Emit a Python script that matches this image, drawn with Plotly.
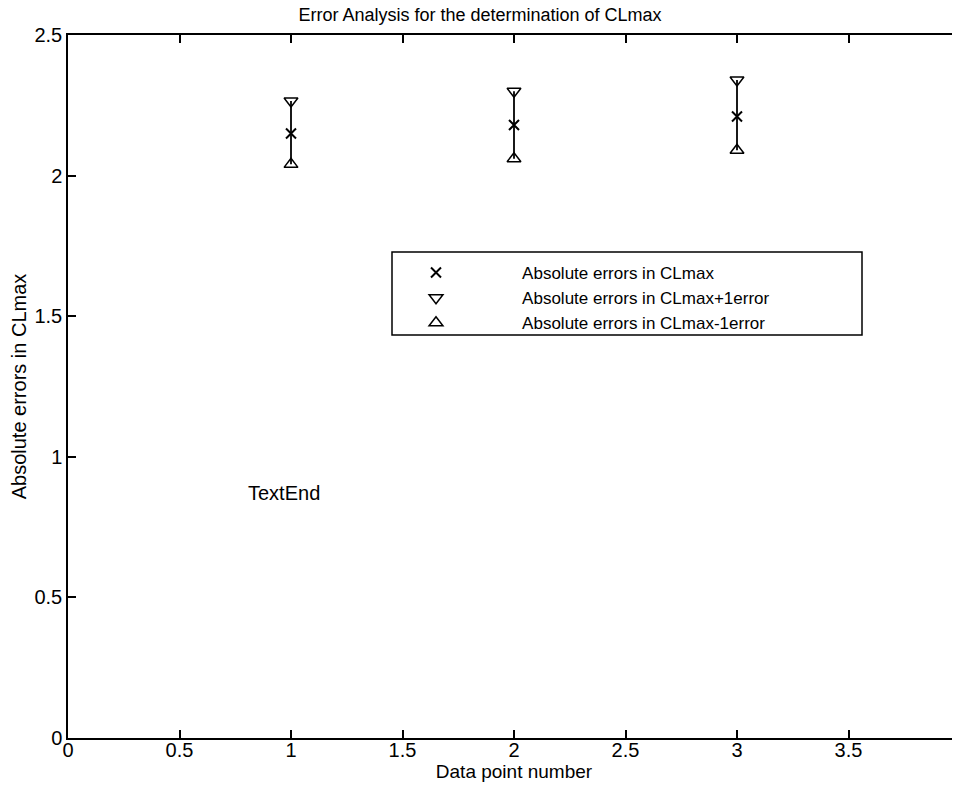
import plotly.graph_objects as go

# Data
data_points = [1, 2, 3]
cl_max = [2.15, 2.18, 2.21]
cl_max_plus = [2.265, 2.30, 2.34]
cl_max_minus = [2.04, 2.06, 2.09]

x_ticks = [0, 0.5, 1, 1.5, 2, 2.5, 3, 3.5, 4]
x_tick_labels = ["0", "0.5", "1", "1.5", "2", "2.5", "3", "3.5", "4"]
y_ticks = [0, 0.5, 1, 1.5, 2, 2.5]
y_tick_labels = ["0", "0.5", "1", "1.5", "2", "2.5"]

FONT = "Liberation Sans, Arial, Helvetica, sans-serif"
FS = 20
LFS = 17
pad = "\u00a0" * 14

OFF = 8  # page body margin
W, H = 960 - OFF, 791 - 2 * OFF
L, R, T = 68 - OFF, 0, 35 - OFF
B = H - (738 - OFF)
PW, PH = W - L - R, H - T - B


def px(xp):
    return (xp - 68) / PW


def py(yp):
    return (738 - yp) / PH


fig = go.Figure()

fig.add_trace(go.Scatter(
    x=data_points, y=cl_max, mode="markers",
    name=pad + "Absolute errors in CLmax",
    marker=dict(symbol="x-thin-open", size=10, color="black",
                line=dict(color="black", width=2)),
    error_y=dict(type="data", symmetric=False,
                 array=[u - c for u, c in zip(cl_max_plus, cl_max)],
                 arrayminus=[c - l for c, l in zip(cl_max, cl_max_minus)],
                 color="black", thickness=1.8, width=0),
))
fig.add_trace(go.Scatter(
    x=data_points, y=cl_max_plus, mode="markers",
    name=pad + "Absolute errors in CLmax+1error",
    marker=dict(symbol="triangle-down-open", size=12, color="black",
                line=dict(color="black", width=1.5)),
))
fig.add_trace(go.Scatter(
    x=data_points, y=cl_max_minus, mode="markers",
    name=pad + "Absolute errors in CLmax-1error",
    marker=dict(symbol="triangle-up-open", size=12, color="black",
                line=dict(color="black", width=1.5)),
))

fig.add_annotation(x=0.8, y=0.87, xref="x", yref="y", text="TextEnd",
                   showarrow=False, xanchor="left", yanchor="middle",
                   font=dict(family=FONT, size=FS, color="black"))

# legend frame
fig.add_shape(type="rect", xref="paper", yref="paper",
              x0=px(392), x1=px(862), y0=py(335), y1=py(252),
              line=dict(color="black", width=1.5), fillcolor="white",
              layer="below")

axis_common = dict(showline=True, linecolor="black", linewidth=1.5,
                   mirror="ticks", ticks="inside", ticklen=8, tickwidth=1.5,
                   tickcolor="black", showgrid=False, zeroline=False,
                   automargin=False,
                   tickfont=dict(family=FONT, size=FS, color="black"))

fig.update_layout(
    width=W, height=H,
    margin=dict(l=L, r=R, t=T, b=B, autoexpand=False),
    paper_bgcolor="white", plot_bgcolor="white",
    font=dict(family=FONT, size=FS, color="black"),
    title=dict(text="Error Analysis for the determination of CLmax",
               xref="container", yref="container",
               x=(480 - OFF) / W, xanchor="center",
               y=1 - 7 / H, yanchor="middle",
               font=dict(family=FONT, size=18, color="black")),
    xaxis=dict(range=[0, 4], tickvals=x_ticks, ticktext=x_tick_labels,
               ticklabeloverflow="allow", ticklabelstandoff=-7,
               title=dict(text="Data point number", standoff=2,
                          font=dict(family=FONT, size=19, color="black")),
               **axis_common),
    yaxis=dict(range=[0, 2.5], tickvals=y_ticks, ticktext=y_tick_labels,
               title=dict(text="Absolute errors in CLmax", standoff=6,
                          font=dict(family=FONT, size=FS, color="black")),
               **axis_common),
    showlegend=True,
    legend=dict(x=px(416), y=py(255),
                xanchor="left", yanchor="top",
                borderwidth=0, bgcolor="rgba(0,0,0,0)",
                font=dict(family=FONT, size=LFS, color="black"),
                itemwidth=30, tracegroupgap=0),
)

fig.write_html("out.html")
